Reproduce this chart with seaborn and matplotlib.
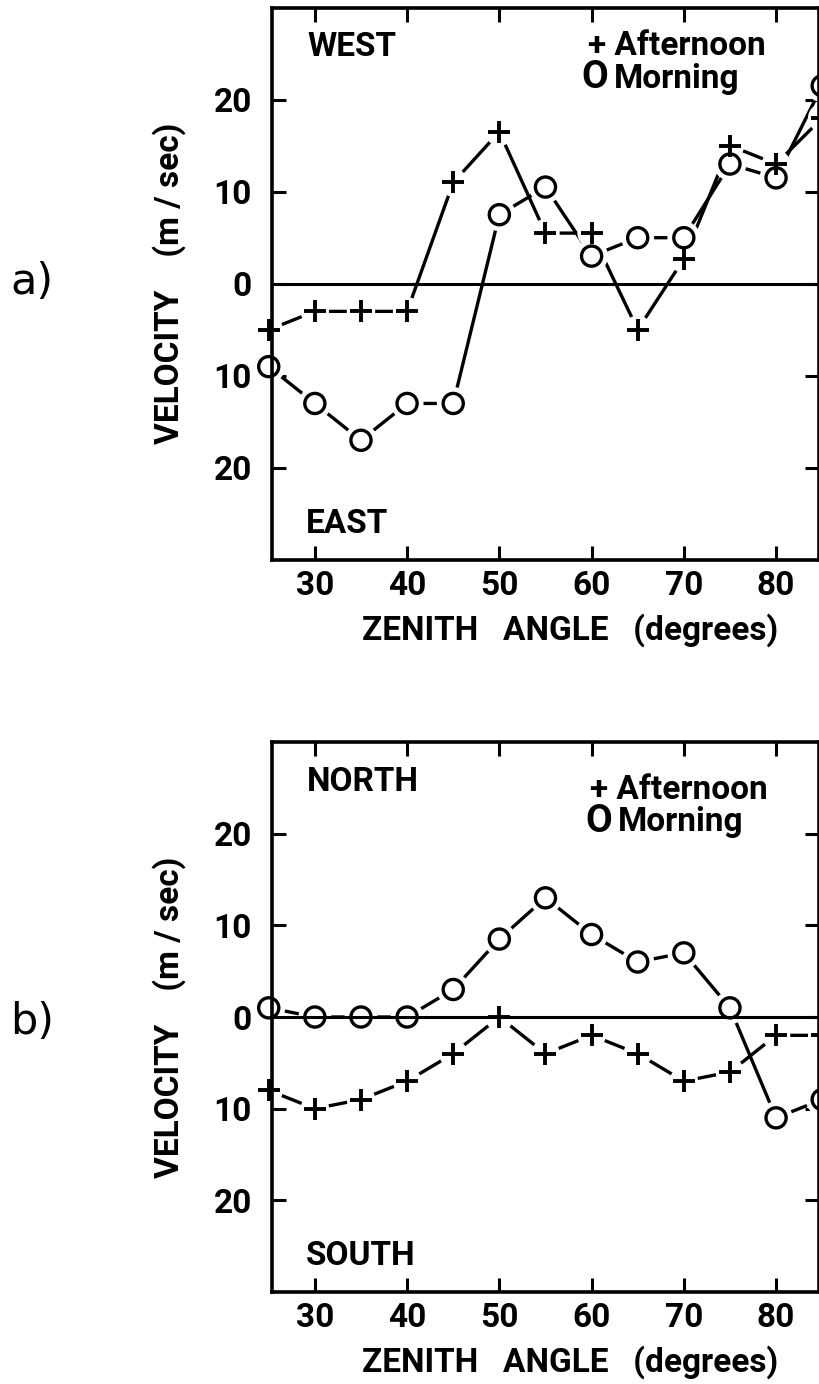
import matplotlib
matplotlib.use("Agg")
import matplotlib.pyplot as plt
import seaborn as sns
import pandas as pd

# ---------------- data ----------------
zenith = [25, 30, 35, 40, 45, 50, 55, 60, 65, 70, 75, 80, 85]
a_afternoon = [-5, -3, -3, -3, 11, 16.5, 5.5, 5.5, -5, 2.7, 15, 13, 18]
a_morning = [-9, -13, -17, -13, -13, 7.5, 10.5, 3, 5, 5, 13, 11.5, 21.5]
b_afternoon = [-8, -10, -9, -7, -4, 0, -4, -2, -4, -7, -6, -2, -2]
b_morning = [1, 0, 0, 0, 3, 8.5, 13, 9, 6, 7, 1, -11, -9]

x_ticks = [30, 40, 50, 60, 70, 80]
y_ticks = [20, 10, 0, -10, -20]
y_ticklabels = ["20", "10", "0", "10", "20"]

sns.set_style("ticks")
FAM = ["Roboto", "DejaVu Sans"]
plt.rcParams["font.family"] = FAM
plt.rcParams["text.color"] = "black"
plt.rcParams["axes.labelcolor"] = "black"

W, H = 819, 1384
fig = plt.figure(figsize=(W / 100, H / 100), dpi=100)

def px_axes(left, top, right, bottom):
    return fig.add_axes([left / W, 1 - bottom / H, (right - left) / W, (bottom - top) / H])

axA = px_axes(271.5, 7.5, 818.5, 560)
axB = px_axes(271.5, 742, 818.5, 1292)

FS = 24
panels = [
    (axA, a_afternoon, a_morning, "WEST", "EAST", "a)", 282,
     (0.579, 0.930), (0.591, 0.873), 0.626),
    (axB, b_afternoon, b_morning, "NORTH", "SOUTH", "b)", 1022,
     (0.598, 0.912 - 0.056), (0.598, 0.856), 0.633),
]

for ax, aft, morn, top_lbl, bot_lbl, tag, tag_y, pos_aft, pos_circ, morn_x in panels:
    pos_aft = (pos_aft[0] if tag == "a)" else 0.582, pos_aft[1] if tag == "a)" else 0.912)
    df = pd.DataFrame({
        "zenith": zenith * 2,
        "velocity": aft + morn,
        "series": ["Afternoon"] * len(zenith) + ["Morning"] * len(zenith),
    })
    sns.lineplot(data=df, x="zenith", y="velocity", hue="series",
                 palette={"Afternoon": "black", "Morning": "black"},
                 estimator=None, sort=False, linewidth=2.4, legend=False,
                 ax=ax, zorder=2)
    # white halos leave gaps between connecting lines and markers
    sns.scatterplot(x=zenith, y=aft, s=420, color="white", edgecolor="none",
                    ax=ax, zorder=3, clip_on=False, legend=False)
    sns.scatterplot(x=zenith, y=morn, s=560, color="white", edgecolor="none",
                    ax=ax, zorder=3, clip_on=False, legend=False)
    ax.axhline(0, color="black", linewidth=2.2, zorder=4)
    sns.scatterplot(x=zenith, y=aft, marker="+", s=240, color="black",
                    linewidth=2.8, ax=ax, zorder=5, clip_on=False, legend=False)
    sns.scatterplot(x=zenith, y=morn, marker="o", s=210, color="black",
                    ax=ax, zorder=5, clip_on=False, legend=False)
    coll = ax.collections[-1]
    coll.set_facecolor("none")
    coll.set_edgecolor("black")
    coll.set_linewidth(2.4)

    ax.set_xlim(25.3, 84.6)
    ax.set_ylim(-30, 30)
    ax.set_xticks(x_ticks)
    ax.set_xticklabels([str(t) for t in x_ticks])
    ax.set_yticks(y_ticks)
    ax.set_yticklabels(y_ticklabels)
    ax.tick_params(axis="both", direction="in", length=10, width=2.2,
                   top=True, right=True, labelsize=FS, colors="black")
    ax.tick_params(axis="x", pad=7)
    ax.tick_params(axis="y", pad=14)
    for s in ax.spines.values():
        s.set_linewidth(2.6)
        s.set_color("black")
        s.set_zorder(6)
    for lab in ax.get_xticklabels() + ax.get_yticklabels():
        lab.set_fontweight("bold")

    ax.set_xlabel("ZENITH   ANGLE   (degrees)", fontsize=FS, fontweight="bold")
    ax.xaxis.label.set_va("center")
    ax.xaxis.set_label_coords(0.5457, -0.127)
    ax.set_ylabel("VELOCITY    (m / sec)", fontsize=FS, fontweight="bold")
    ax.yaxis.label.set_va("center")
    ax.yaxis.set_label_coords(-0.187, 0.5)

    ax.text(0.065, 0.928, top_lbl, transform=ax.transAxes, fontsize=FS,
            fontweight="bold", va="center", ha="left")
    ax.text(0.062, 0.065, bot_lbl, transform=ax.transAxes, fontsize=FS,
            fontweight="bold", va="center", ha="left")
    ax.text(pos_aft[0], pos_aft[1], "+ Afternoon", transform=ax.transAxes,
            fontsize=FS, fontweight="bold", va="center", ha="left")
    ax.text(pos_circ[0], pos_circ[1], "O", transform=ax.transAxes,
            fontsize=28, fontweight="bold", va="center", ha="center")
    ax.text(morn_x, pos_circ[1] - 0.002, "Morning", transform=ax.transAxes,
            fontsize=FS, fontweight="bold", va="center", ha="left")

    fig.text(32 / W, 1 - tag_y / H, tag, fontsize=31, ha="center", va="center",
             family=["DejaVu Sans"])

fig.savefig("out.png", dpi=100, facecolor="white")
